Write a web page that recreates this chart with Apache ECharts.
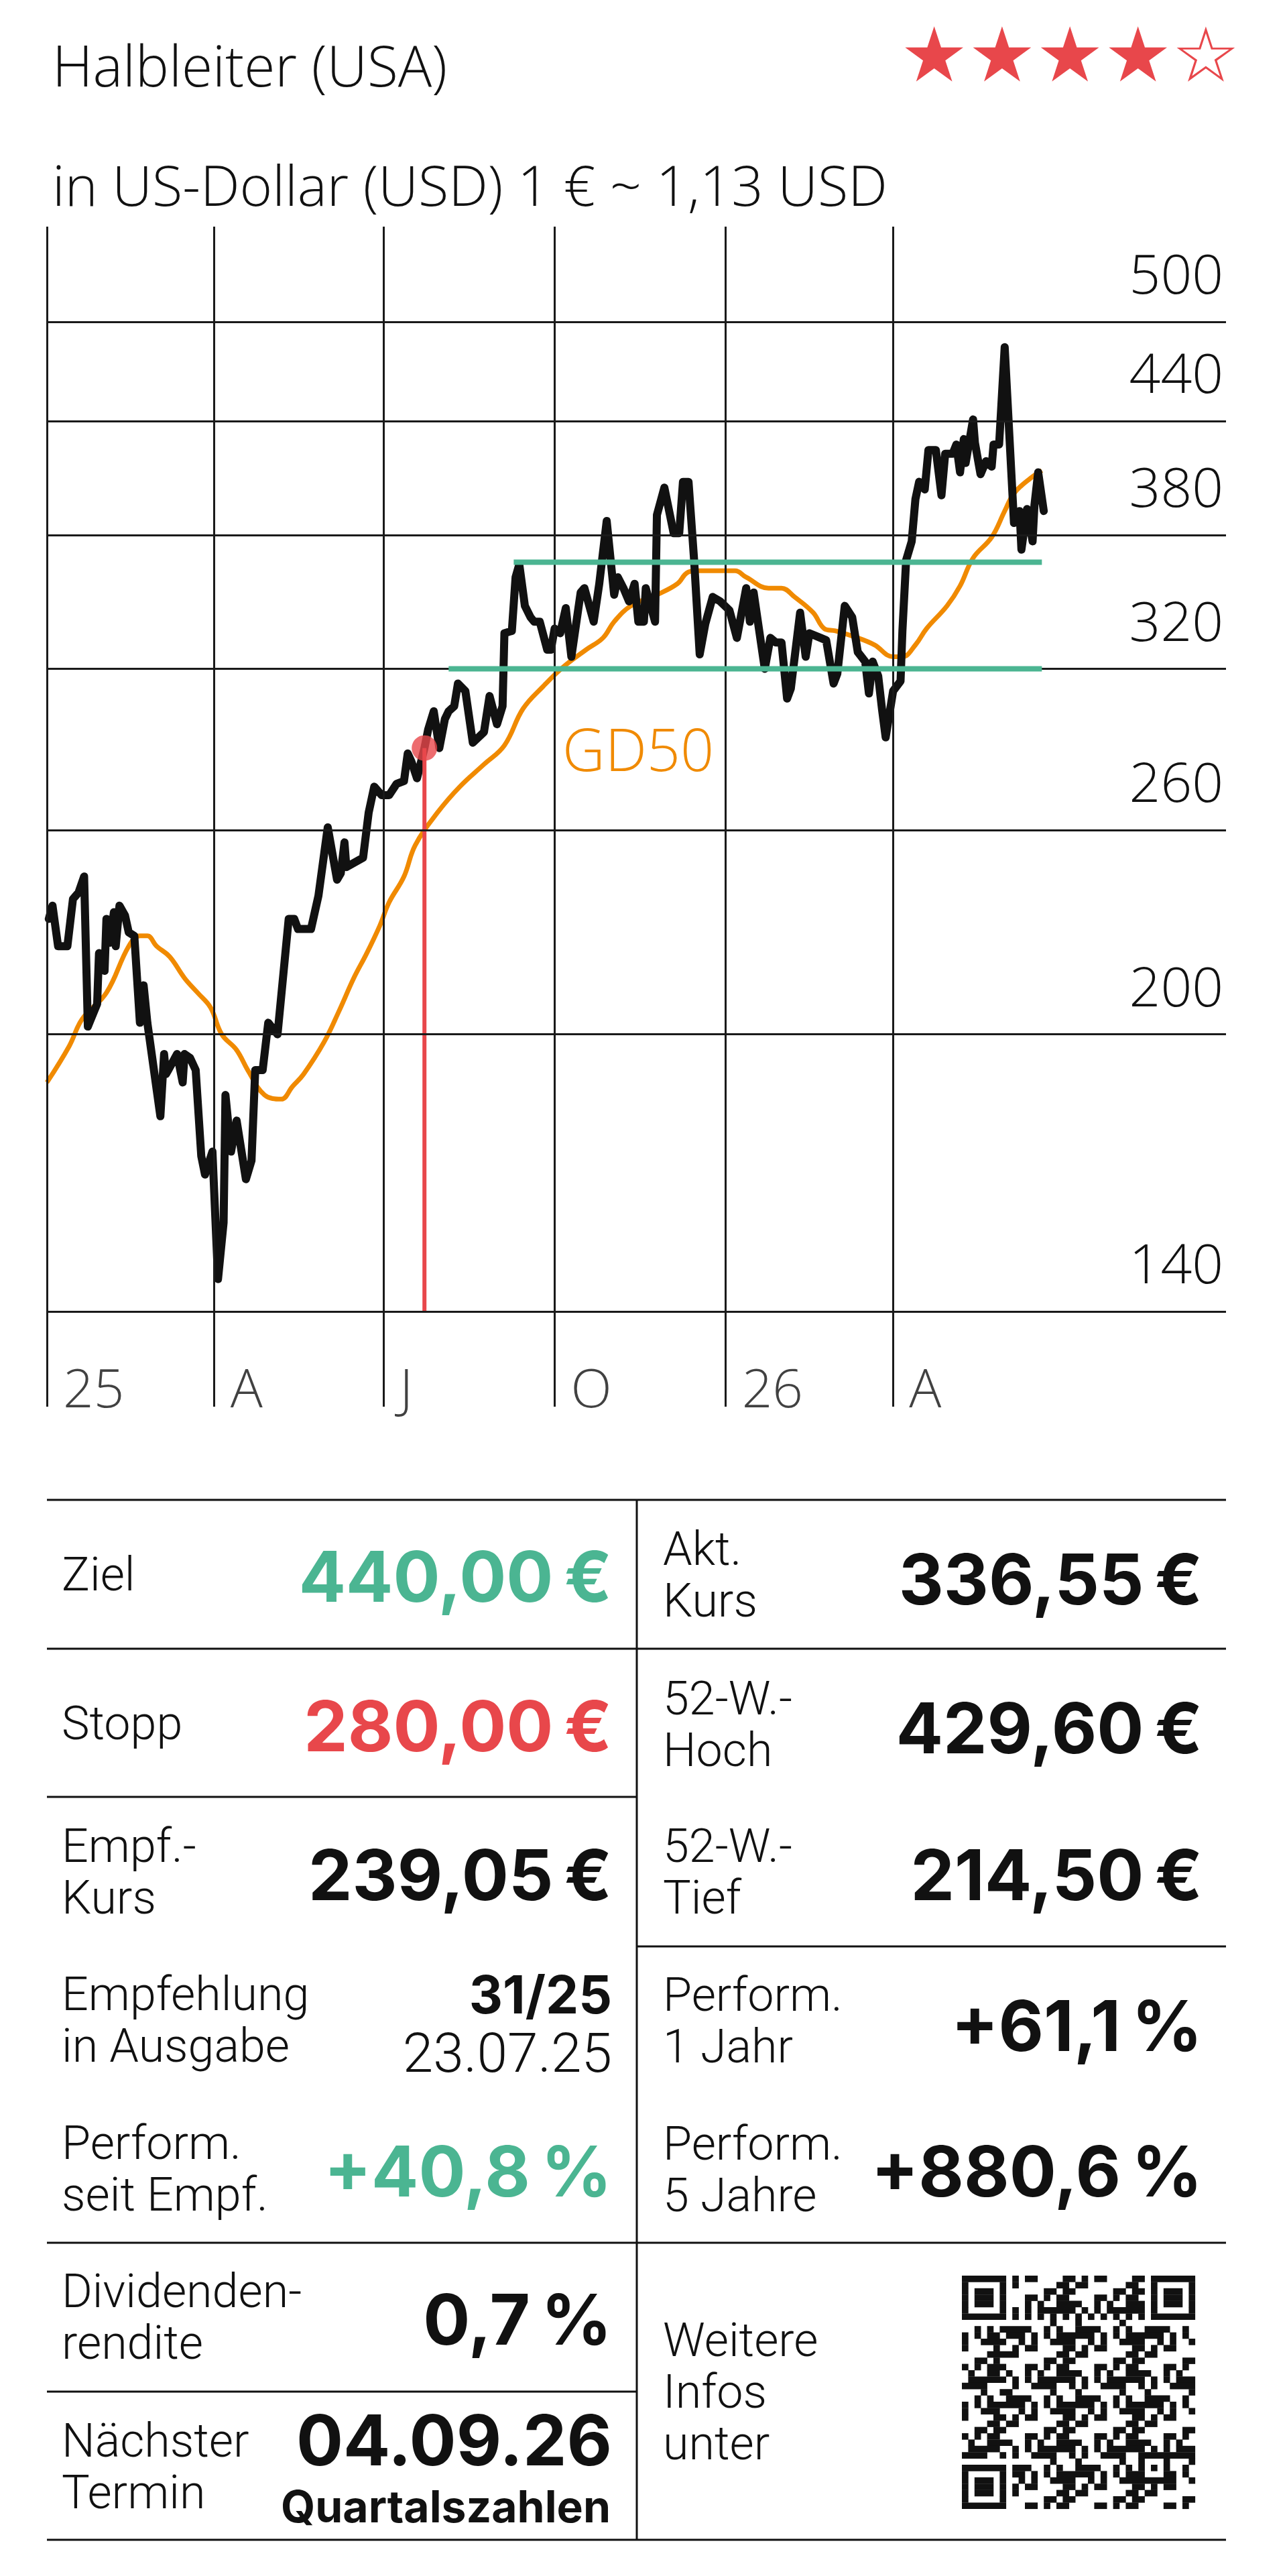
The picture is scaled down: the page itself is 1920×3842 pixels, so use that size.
<!DOCTYPE html>
<html><head><meta charset="utf-8">
<script src="https://cdn.jsdelivr.net/npm/echarts/dist/echarts.min.js"></script>
<style>html,body{margin:0;padding:0;background:#fff}#c{width:1920px;height:3842px}</style>
</head><body><div id="c"></div>
<script>
// ---------- DATA ----------
const kursDates = ['2025-01-02','2025-01-04','2025-01-07','2025-01-12','2025-01-15','2025-01-18','2025-01-21','2025-01-23','2025-01-28','2025-01-29',
'2025-02-01','2025-02-02','2025-02-04','2025-02-06','2025-02-07','2025-02-09','2025-02-12','2025-02-14','2025-02-17','2025-02-20','2025-02-22','2025-02-24',
'2025-03-03','2025-03-05','2025-03-06','2025-03-12','2025-03-15','2025-03-16','2025-03-19','2025-03-22','2025-03-25','2025-03-27','2025-03-31',
'2025-04-03','2025-04-06','2025-04-07','2025-04-10','2025-04-13','2025-04-18','2025-04-21','2025-04-23','2025-04-27','2025-04-30',
'2025-05-05','2025-05-11','2025-05-14','2025-05-16','2025-05-23','2025-05-27',
'2025-06-01','2025-06-06','2025-06-08','2025-06-10','2025-06-11','2025-06-20','2025-06-23','2025-06-26','2025-06-30',
'2025-07-04','2025-07-08','2025-07-12','2025-07-14','2025-07-16','2025-07-19','2025-07-23','2025-07-25','2025-07-28','2025-07-31',
'2025-08-03','2025-08-05','2025-08-08','2025-08-10','2025-08-14','2025-08-18','2025-08-24','2025-08-27','2025-08-31',
'2025-09-03','2025-09-04','2025-09-08','2025-09-10','2025-09-12','2025-09-15','2025-09-18','2025-09-20','2025-09-23','2025-09-27','2025-09-29',
'2025-10-01','2025-10-04','2025-10-07','2025-10-10','2025-10-15','2025-10-17','2025-10-22','2025-10-25','2025-10-29',
'2025-11-02','2025-11-04','2025-11-07','2025-11-10','2025-11-13','2025-11-15','2025-11-18','2025-11-19','2025-11-24','2025-11-25','2025-11-29',
'2025-12-04','2025-12-07','2025-12-09','2025-12-12','2025-12-15','2025-12-18','2025-12-21','2025-12-25','2025-12-29',
'2026-01-03','2026-01-07','2026-01-12','2026-01-14','2026-01-16','2026-01-22','2026-01-25','2026-01-28','2026-01-31',
'2026-02-03','2026-02-05','2026-02-10','2026-02-13','2026-02-15','2026-02-21','2026-02-24','2026-02-28',
'2026-03-02','2026-03-06','2026-03-10','2026-03-13','2026-03-17','2026-03-19','2026-03-21','2026-03-24','2026-03-26','2026-03-28',
'2026-04-01','2026-04-05','2026-04-06','2026-04-08','2026-04-11','2026-04-13','2026-04-15','2026-04-18','2026-04-20','2026-04-24','2026-04-27','2026-04-29',
'2026-05-03','2026-05-05','2026-05-07','2026-05-09','2026-05-10','2026-05-14','2026-05-15','2026-05-18','2026-05-21','2026-05-24','2026-05-25','2026-05-28','2026-05-31',
'2026-06-05','2026-06-08','2026-06-09','2026-06-12','2026-06-15','2026-06-16','2026-06-18','2026-06-21'];
const kursValues = [232,236,224,224,238,240,245,202,208,222,
217,232,225,234,224,236,233,228,227,203,213,203,
180,195,190,195,188,195,194,191,171,167,172,
146,157,185,172,179,166,170,191,191,203,
200,232,232,229,229,239,
261,244,246,256,248,251,266,275,272,
272,276,277,287,284,278,289,296,303,289,
300,303,305,314,311,291,295,309,298,
305,335,336,360,366,347,342,340,340,328,328,
337,335,346,325,353,355,340,357,387,
352,360,355,349,357,340,340,355,340,390,404,
381,381,407,407,368,326,339,351,349,
345,333,355,340,353,320,333,331,331,
308,312,344,325,335,333,332,314,
318,347,342,327,323,310,323,317,304,293,
311,315,336,368,377,398,407,403,424,424,400,422,
422,427,412,430,417,441,428,411,418,415,427,427,484,
386,392,373,393,377,395,412,392];

const gd50Dates = ['2025-01-01','2025-01-13','2025-01-20','2025-02-02','2025-02-14','2025-02-20','2025-02-24','2025-03-01','2025-03-08','2025-03-16',
'2025-03-23','2025-03-30','2025-04-05','2025-04-13','2025-04-19','2025-04-28','2025-05-07','2025-05-13','2025-05-19','2025-05-30',
'2025-06-07','2025-06-15','2025-06-22','2025-06-29','2025-07-04','2025-07-12','2025-07-18','2025-07-30','2025-08-11','2025-08-24',
'2025-09-04','2025-09-14','2025-09-25','2025-10-06','2025-10-18','2025-10-27','2025-11-02','2025-11-11','2025-11-25','2025-12-06',
'2025-12-11','2025-12-16','2026-01-06','2026-01-12','2026-01-24','2026-01-31','2026-02-07','2026-02-17','2026-02-23','2026-03-01',
'2026-03-13','2026-03-22','2026-04-01','2026-04-06','2026-04-13','2026-04-19','2026-04-30','2026-05-07','2026-05-14','2026-05-24',
'2026-05-31','2026-06-05','2026-06-14','2026-06-20'];
const gd50Values = [188,197,204,211,224,227,227,224,221,215,
211,207,200,196,191,185,184,187,190,198,
206,215,222,230,237,245,255,266,275,283,
290,304,313,321,328,333,340,347,352,357,
362,363,363,360,355,355,351,344,337,336,
333,330,325,325,330,337,347,356,369,379,
392,401,409,413];

const upperBandDates = ['2025-09-09','2026-06-20'];
const upperBandValues = [367,367];
const lowerBandDates = ['2025-08-05','2026-06-20'];
const lowerBandValues = [320,320];
const empfDate = '2025-07-23';
const empfValue = 289;
const empfBase = 140;

const yTicks = [140,200,260,320,380,440,500];
const quarterDates = ['2025-01-01','2025-04-01','2025-07-01','2025-10-01','2026-01-01','2026-04-01'];
const quarterLabels = ['25','A','J','O','26','A'];

const titleText = 'Halbleiter (USA)';
const subtitleText = 'in US-Dollar (USD) 1 € ~ 1,13 USD';
const starsText = '★★★★☆';
const TS = '\u2009'; // thin space before unit signs

// ---------- STYLE ----------
const FONT_L = '"Open Sans", Inter, "Noto Sans", sans-serif';   // light single-line texts
const FONT_M = 'Roboto, "Open Sans", sans-serif';                // light multi-line labels
const FONT_B = 'Inter, "Noto Sans", sans-serif';                 // bold values
const BLACK = '#111111', ORANGE = '#f08a00', GREEN = '#4bb592', RED = '#e8474b';

const chart = echarts.init(document.getElementById('c'), null, {renderer: 'svg', width: 1920, height: 3842});

function T(text, x, y, size, weight, color, align, family) {
  const w = weight || 300;
  return {type: 'text', x: x, y: y, silent: true, z: 10,
    style: {text: text, fill: color || BLACK, fontSize: size, fontWeight: w,
      fontFamily: family || (w >= 600 ? FONT_B : FONT_M), lineHeight: 77,
      textAlign: align || 'left', align: align || 'left', textVerticalAlign: 'middle', verticalAlign: 'middle'}};
}
function L(x1, y1, x2, y2) {
  return {type: 'line', silent: true, shape: {x1: x1, y1: y1, x2: x2, y2: y2}, style: {stroke: BLACK, lineWidth: 3}};
}

// QR-code-like decoration (picture, not data)
function qrGroup() {
  const N = 37, S = 9.4, X0 = 1435, Y0 = 3394;
  function dark(r, c) {
    const fp = [[0, 0], [0, N - 7], [N - 7, 0]];
    for (const [fr, fc] of fp) {
      if (r >= fr - 1 && r <= fr + 7 && c >= fc - 1 && c <= fc + 7) {
        const rr = r - fr, cc = c - fc;
        if (rr < 0 || rr > 6 || cc < 0 || cc > 6) return false;
        if (rr === 0 || rr === 6 || cc === 0 || cc === 6) return true;
        return rr >= 2 && rr <= 4 && cc >= 2 && cc <= 4;
      }
    }
    if (r >= N - 9 && r <= N - 5 && c >= N - 9 && c <= N - 5) {
      const rr = r - (N - 9), cc = c - (N - 9);
      return rr === 0 || rr === 4 || cc === 0 || cc === 4 || (rr === 2 && cc === 2);
    }
    if (r === 6) return c % 2 === 0;
    if (c === 6) return r % 2 === 0;
    return ((r * r * 31 + c * c * 17 + r * c * 13 + r * 7 + c * 3) % 11) < 5;
  }
  const kids = [];
  for (let r = 0; r < N; r++) {
    let c = 0;
    while (c < N) {
      if (dark(r, c)) {
        let e = c; while (e < N && dark(r, e)) e++;
        kids.push({type: 'rect', silent: true, shape: {x: X0 + c * S, y: Y0 + r * S, width: (e - c) * S + 0.3, height: S + 0.3}, style: {fill: BLACK}});
        c = e;
      } else c++;
    }
  }
  return {type: 'group', silent: true, children: kids};
}

const LX = 92, RX = 989, LV = 913, RV = 1794, VS = 104;
const graphics = [
  T(titleText, 78, 96, 84, 300, BLACK, 'left', FONT_L),
  T(subtitleText, 78, 274, 83, 300, BLACK, 'left', FONT_L),
  {type: 'text', x: 1343, y: 82, silent: true, style: {text: starsText, fill: RED, fontSize: 113, fontFamily: '"DejaVu Sans", sans-serif', textVerticalAlign: 'middle', verticalAlign: 'middle'}},
  T('GD50', 839, 1116, 88, 300, ORANGE, 'left', FONT_L),
  // table lines
  L(70, 2237, 1829, 2237), L(70, 2459, 1829, 2459), L(70, 2680, 950, 2680), L(950, 2903, 1829, 2903),
  L(70, 3345, 1829, 3345), L(70, 3567, 950, 3567), L(70, 3788, 1829, 3788), L(950, 2237, 950, 3788),
  // row 1
  T('Ziel', LX, 2348, 70), T('440,00' + TS + '€', LV, 2351, VS, 700, GREEN, 'right'),
  T('Akt.\nKurs', RX, 2348, 70), T('336,55' + TS + '€', RV, 2355, VS, 700, BLACK, 'right'),
  // row 2
  T('Stopp', LX, 2570, 70), T('280,00' + TS + '€', LV, 2574, VS, 700, RED, 'right'),
  T('52-W.-\nHoch', RX, 2571, 70), T('429,60' + TS + '€', RV, 2577, VS, 700, BLACK, 'right'),
  // row 3
  T('Empf.-\nKurs', LX, 2791, 70), T('239,05' + TS + '€', LV, 2796, VS, 700, BLACK, 'right'),
  T('52-W.-\nTief', RX, 2791, 70), T('214,50' + TS + '€', RV, 2796, VS, 700, BLACK, 'right'),
  // row 4
  T('Empfehlung\nin Ausgabe', LX, 3012, 70),
  {type: 'text', x: LV, y: 3018, silent: true, z: 10, style: {
    text: '{b|31/25}\n{r|23.07.25}', align: 'right', textAlign: 'right', verticalAlign: 'middle', textVerticalAlign: 'middle', fill: BLACK,
    rich: {b: {fontSize: 78, fontWeight: 700, fontFamily: FONT_B, lineHeight: 88, fill: BLACK, align: 'right'},
           r: {fontSize: 82, fontWeight: 300, fontFamily: FONT_M, lineHeight: 88, fill: BLACK, align: 'right'}}}},
  T('Perform.\n1 Jahr', RX, 3013, 70), T('+61,1' + TS + '%', RV, 3021, VS, 700, BLACK, 'right'),
  // row 5
  T('Perform.\nseit Empf.', LX, 3234, 70), T('+40,8' + TS + '%', LV, 3238, VS, 700, GREEN, 'right'),
  T('Perform.\n5 Jahre', RX, 3235, 70), T('+880,6' + TS + '%', RV, 3238, VS, 700, BLACK, 'right'),
  // row 6
  T('Dividenden-\nrendite', LX, 3455, 70), T('0,7' + TS + '%', LV, 3459, VS, 700, BLACK, 'right'),
  T('Weitere\nInfos\nunter', RX, 3567, 70),
  qrGroup(),
  // row 7
  T('Nächster\nTermin', LX, 3678, 70),
  T('04.09.26', LV, 3639, 104, 700, BLACK, 'right'), T('Quartalszahlen', LV - 2, 3738, 66, 700, BLACK, 'right')
];

const pair = (ds, vs) => ds.map((d, i) => [d, vs[i]]);

const option = {
  animation: false,
  backgroundColor: '#ffffff',
  grid: {left: 70, top: 338, width: 1759, height: 1760, containLabel: false},
  xAxis: {type: 'time', min: '2025-01-01', max: '2026-09-27',
    axisLine: {show: false}, axisTick: {show: false}, axisLabel: {show: false}, splitLine: {show: false}},
  yAxis: {type: 'log', logBase: 10, min: 123.9, max: 565.1,
    axisLine: {show: false}, axisTick: {show: false}, axisLabel: {show: false}, splitLine: {show: false}, minorSplitLine: {show: false}},
  series: [
    {name: 'grid', type: 'line', data: [], z: 1, silent: true,
      markLine: {symbol: 'none', silent: true, animation: false,
        lineStyle: {color: '#1a1a1a', width: 3, type: 'solid'},
        label: {show: true, position: 'insideEndTop', formatter: p => String(p.value), fontSize: 82, fontFamily: FONT_L, fontWeight: 300, color: BLACK, distance: [4, 33]},
        data: yTicks.map(v => ({yAxis: v})).concat(quarterDates.map(d => ({xAxis: d, label: {show: false}})))
      }},
    {name: 'quarters', type: 'scatter', z: 1, silent: true, symbolSize: 0,
      data: quarterDates.map((d, i) => [d, 127.2, quarterLabels[i]]),
      label: {show: true, position: 'right', distance: 24, formatter: p => p.value[2], fontSize: 80, fontFamily: FONT_L, fontWeight: 300, color: BLACK}},
    {name: 'GD50', type: 'line', z: 2, silent: true, showSymbol: false, smooth: 0.4,
      data: pair(gd50Dates, gd50Values), lineStyle: {color: ORANGE, width: 7}},
    {name: 'Kurs', type: 'line', z: 3, silent: true, showSymbol: false,
      data: pair(kursDates, kursValues), lineStyle: {color: BLACK, width: 12, join: 'round', cap: 'round'}},
    {name: 'Empfehlung', type: 'line', z: 4, silent: true, showSymbol: false,
      data: [[empfDate, empfBase], [empfDate, empfValue]], lineStyle: {color: RED, width: 6}},
    {name: 'Widerstand', type: 'line', z: 5, silent: true, showSymbol: false,
      data: pair(upperBandDates, upperBandValues), lineStyle: {color: GREEN, width: 8}},
    {name: 'Unterstützung', type: 'line', z: 5, silent: true, showSymbol: false,
      data: pair(lowerBandDates, lowerBandValues), lineStyle: {color: GREEN, width: 8}},
    {name: 'Empf.-Punkt', type: 'scatter', z: 6, silent: true, symbolSize: 38,
      data: [[empfDate, empfValue]], itemStyle: {color: RED}}
  ],
  graphic: graphics
};
chart.setOption(option);
</script></body></html>
